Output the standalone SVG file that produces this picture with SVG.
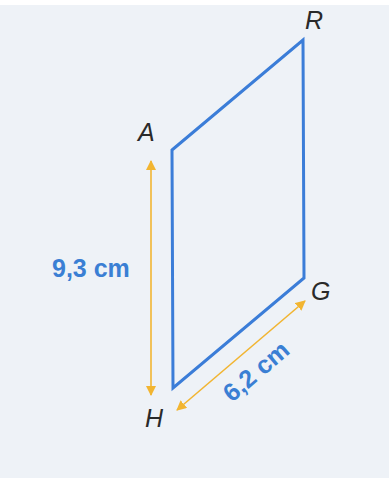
<svg xmlns="http://www.w3.org/2000/svg" width="389" height="478" viewBox="0 0 389 478">
<style>
.lbl{font-family:"Liberation Sans",Arial,sans-serif;font-style:italic;font-size:25px;fill:#2a2a2a}
.dim{font-family:"Liberation Sans",Arial,sans-serif;font-weight:bold;font-size:25px;fill:#3a7fd4}
.arr{stroke:#f2b531;stroke-width:1.6;fill:none;marker-start:url(#ah);marker-end:url(#ah)}
</style>
<defs>
<marker id="ah" viewBox="0 0 10 10" refX="9" refY="5" markerWidth="10" markerHeight="10" markerUnits="userSpaceOnUse" orient="auto-start-reverse">
<path d="M0,0 L10,5 L0,10 z" fill="#f2b531"/>
</marker>
</defs>
<rect width="389" height="478" fill="#eef2f7"/>
<rect width="389" height="5" fill="#ffffff"/>
<g id="connectors">
<line class="arr" x1="151" y1="161" x2="151" y2="395"/>
<line class="arr" x1="177" y1="410" x2="305" y2="301"/>
</g>
<g id="parallelogram">
<polygon points="172,150 303,40 304,278 173,388" fill="none" stroke="#3b7dd8" stroke-width="3" stroke-linejoin="miter"/>
</g>
<g id="R"><text class="lbl" x="305" y="29">R</text></g>
<g id="A"><text class="lbl" x="138" y="141">A</text></g>
<g id="G"><text class="lbl" x="311" y="300">G</text></g>
<g id="H"><text class="lbl" x="145" y="427">H</text></g>
<g id="dim93"><text class="dim" x="52" y="277">9,3 cm</text></g>
<g id="dim62"><text class="dim" transform="translate(232,403) rotate(-40.5)">6,2 cm</text></g>
</svg>
